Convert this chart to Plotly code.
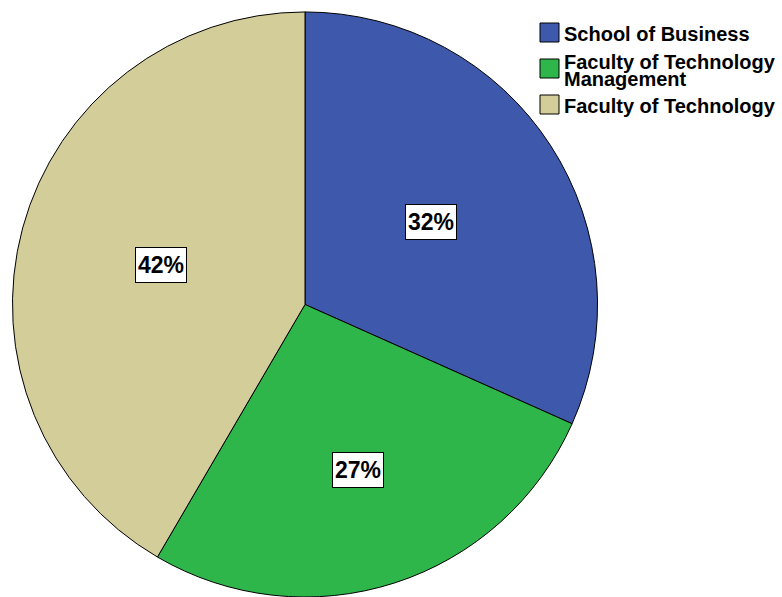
import math
import plotly.graph_objects as go

# Enrolment share by faculty (percent)
faculties = ["School of Business", "Faculty of Technology\nManagement", "Faculty of Technology"]
shares = [32, 27, 42]
slice_colors = ["#3e58ab", "#2eb64a", "#d3cd9a"]
# radial position of each percentage box, as a fraction of the radius
label_radius = [0.515, 0.595, 0.51]

W, H = 782, 597
dom_x = [12 / W, 598 / W]
dom_y = [0.0, 0.98]
FONT = "Liberation Sans, Arial, sans-serif"

fig = go.Figure()
fig.add_trace(go.Pie(
    labels=[f.replace("\n", " ") for f in faculties],
    values=shares,
    sort=False,
    direction="clockwise",
    rotation=0,
    marker=dict(colors=slice_colors, line=dict(color="black", width=1)),
    textinfo="none",
    hoverinfo="label+value",
    domain=dict(x=dom_x, y=dom_y),
    showlegend=False,
))

# percentage boxes at the middle angle of each slice
cx_px = (dom_x[0] + dom_x[1]) / 2 * W
cy_px = (dom_y[0] + dom_y[1]) / 2 * H
r_px = min((dom_x[1] - dom_x[0]) * W, (dom_y[1] - dom_y[0]) * H) / 2
total = sum(shares)
start = 0.0
for v, rf in zip(shares, label_radius):
    mid = (start + v / 2) / total * 2 * math.pi
    start += v
    px = cx_px + rf * r_px * math.sin(mid)
    py = cy_px + rf * r_px * math.cos(mid)
    fig.add_annotation(
        x=px / W, y=py / H, xref="paper", yref="paper",
        xanchor="center", yanchor="middle",
        text="<b>%d%%</b>" % v,
        showarrow=False,
        font=dict(family=FONT, size=23, color="black"),
        width=46, height=30,
        bgcolor="white", bordercolor="black", borderwidth=1, borderpad=2,
    )

# legend: swatch plus bold label, stacked in the upper right
sw_x0, sw_size, sw_step = 540, 19, 36
text_x = 562
first_top = 23
label_px = 20
line_h = 17  # tight leading for wrapped labels
for k, (name, col) in enumerate(zip(faculties, slice_colors)):
    lines = name.split("\n")
    top = first_top + k * sw_step
    fig.add_shape(
        type="rect", xref="paper", yref="paper",
        x0=sw_x0 / W, x1=(sw_x0 + sw_size) / W,
        y0=1 - top / H, y1=1 - (top + sw_size) / H,
        fillcolor=col, line=dict(color="black", width=1),
    )
    centre = top + sw_size / 2 + 1.5
    if len(lines) == 1:
        txt, base = "<b>%s</b>" % lines[0], label_px
    else:
        # line advance is 1.3 em of the base size; glyphs use the span size
        base = line_h / 1.3
        txt = "<br>".join(
            "<span style='font-size:%dpx'><b>%s</b></span>" % (label_px, ln) for ln in lines
        )
    fig.add_annotation(
        x=text_x / W, y=1 - centre / H,
        xref="paper", yref="paper", xanchor="left", yanchor="middle",
        align="left", text=txt, showarrow=False,
        font=dict(family=FONT, size=base, color="black"),
    )

fig.update_layout(
    width=W, height=H,
    margin=dict(l=0, r=0, t=0, b=0),
    paper_bgcolor="white",
)

fig.write_html("out.html")
